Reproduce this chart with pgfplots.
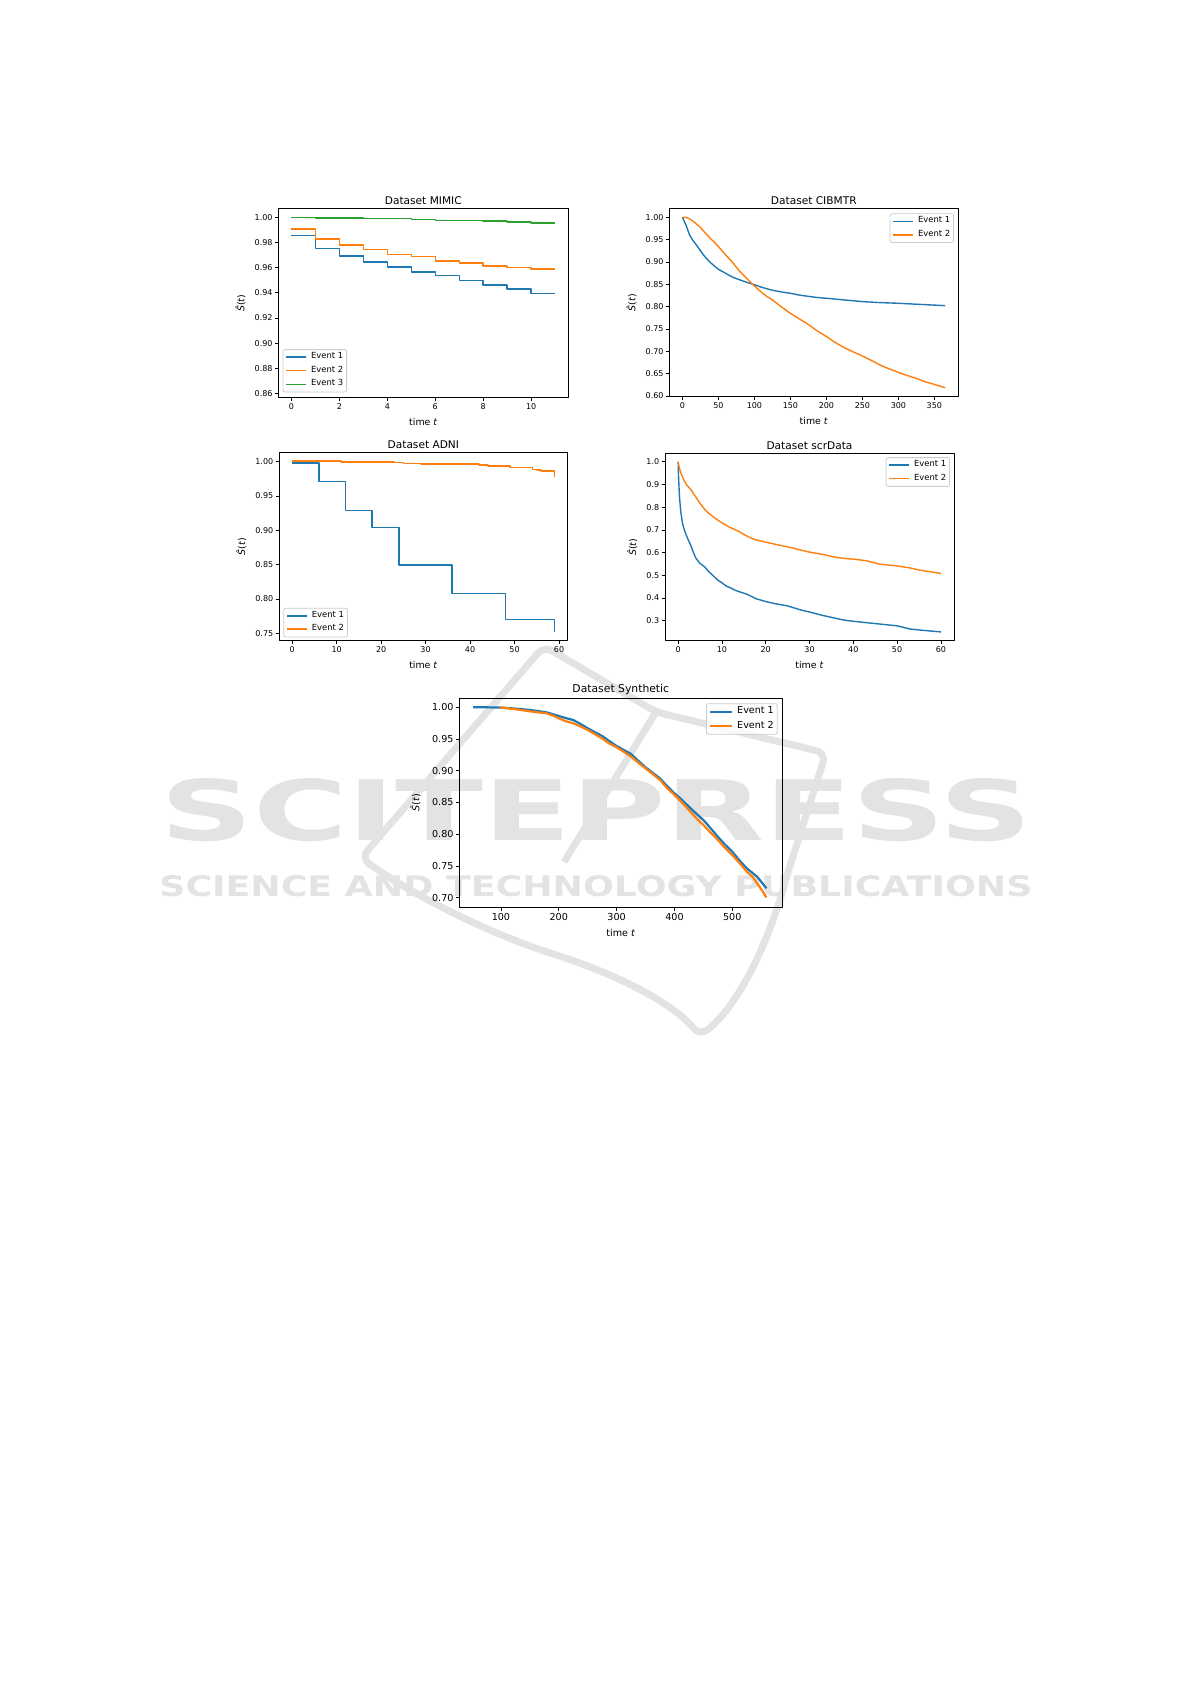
\documentclass[border=0pt]{standalone}
\usepackage{fontspec}
\setmainfont{DejaVu Sans}
\newfontfamily\wmfont{DejaVu Sans Bold}
\usepackage{graphicx}
\usepackage{pgfplots}
\pgfplotsset{compat=1.18}
\definecolor{c1}{HTML}{1F77B4}
\definecolor{c2}{HTML}{FF7F0E}
\definecolor{c3}{HTML}{2CA02C}
\definecolor{wm}{HTML}{E3E3E3}
\pgfplotsset{
  every axis title shift=0pt,
  mpl/.style={
    scale only axis, anchor=north west,
    axis line style={line width=0.45pt},
    tick align=outside, major tick length=1.7pt,
    every tick/.style={black, line width=0.35pt},
    xtick pos=bottom, ytick pos=left,
    /pgf/number format/assume math mode=true,
    ylabel={\textit{Ŝ}(\textit{t})}, xlabel={time \textit{t}},
    no markers, line join=round,
    legend cell align=left,
    legend style={draw=black!20, rounded corners=1pt, fill=white, fill opacity=0.8, text opacity=1,
      inner xsep=1.2pt, inner ysep=1pt, row sep=1.2pt, nodes={inner sep=0.5pt},
      /tikz/every odd column/.append style={column sep=1.6pt}},
    title style={inner sep=1.5pt},
    yticklabel style={inner sep=1pt},
    xticklabel style={inner sep=1pt},
  },
  small/.style={
    tick label style={font=\fontsize{4.0}{4.8}\selectfont},
    label style={font=\fontsize{4.7}{5.6}\selectfont},
    title style={font=\fontsize{5.3}{6}\selectfont},
    legend style={font=\fontsize{4.2}{5}\selectfont},
    legend image code/.code={\draw[##1] (0pt,0pt) -- (10pt,0pt);},
  },
}
\begin{document}
\begin{tikzpicture}
\path[use as bounding box, fill=white] (0pt,0pt) rectangle (595.5pt,-842pt);
% watermark
\draw[wm, line width=3.5pt, rounded corners=5pt] (272pt,-323pt) -- (180.5pt,-429pt) .. controls (210pt,-450pt) and (245pt,-466pt) .. (272pt,-475.5pt) .. controls (305pt,-486pt) and (335pt,-500pt) .. (350pt,-518pt) .. controls (372pt,-500pt) and (386pt,-465pt) .. (394pt,-436pt) -- (413pt,-376.5pt) -- (328pt,-356pt) -- cycle;
\draw[wm, line width=3.5pt] (328pt,-356pt) -- (282pt,-431pt);
\node[anchor=south west, inner sep=0pt, text=wm] at (80pt,-421pt) {\resizebox{436pt}{31pt}{\wmfont SCITEPRESS}};
\node[anchor=south west, inner sep=0pt, text=wm] at (79.5pt,-448.5pt) {\resizebox{436.5pt}{10.5pt}{\wmfont SCIENCE AND TECHNOLOGY PUBLICATIONS}};

% MIMIC
\begin{axis}[mpl, small, at={(139.15pt,-104.15pt)}, width=145pt, height=94.7pt,
  xmin=-0.55, xmax=11.55, ymin=0.8566, ymax=1.0072,
  xtick={0,2,4,6,8,10}, ytick={0.86,0.88,0.90,0.92,0.94,0.96,0.98,1.00},
  yticklabel style={/pgf/number format/.cd, fixed, fixed zerofill, precision=2},
  title={Dataset MIMIC},
  legend style={at={(0.015,0.028)}, anchor=south west}]
\addplot[const plot, c1, line width=0.75pt] coordinates {(0,0.9854)(1,0.9753)(2,0.9692)(3,0.9645)(4,0.9605)(5,0.9565)(6,0.9536)(7,0.9499)(8,0.9462)(9,0.9432)(10,0.9393)(11,0.9393)};
\addplot[const plot, c2, line width=0.75pt] coordinates {(0,0.9907)(1,0.9828)(2,0.9780)(3,0.9743)(4,0.9706)(5,0.9687)(6,0.9653)(7,0.9639)(8,0.9615)(9,0.9602)(10,0.9589)(11,0.9589)};
\addplot[const plot, c3, line width=0.75pt] coordinates {(0,1.0000)(1,0.9995)(3,0.9990)(5,0.9981)(6,0.9976)(8,0.9971)(9,0.9963)(10,0.9955)(11,0.9955)};
\legend{Event 1, Event 2, Event 3}
\end{axis}

% CIBMTR
\begin{axis}[mpl, small, at={(334.65pt,-104.15pt)}, width=144.5pt, height=94.2pt,
  xmin=-18.25, xmax=383.25, ymin=0.5985, ymax=1.020,
  xtick={0,50,100,150,200,250,300,350}, ytick={0.60,0.65,0.70,0.75,0.80,0.85,0.90,0.95,1.00},
  yticklabel style={/pgf/number format/.cd, fixed, fixed zerofill, precision=2},
  title={Dataset CIBMTR},
  legend style={at={(0.985,0.973)}, anchor=north east}]
\addplot[c1, line width=0.7pt] coordinates {(0,1.000)(5,0.982)(10,0.960)(15,0.947)(20,0.9366)(25,0.925)(30,0.914)(35,0.905)(40,0.897)(45,0.890)(50,0.8836)(55,0.879)(60,0.8746)(65,0.870)(70,0.8657)(80,0.8597)(90,0.854)(100,0.849)(110,0.8433)(125,0.8366)(137,0.833)(150,0.8299)(162,0.826)(175,0.823)(187,0.8205)(200,0.8187)(225,0.815)(250,0.8112)(275,0.809)(300,0.8075)(330,0.805)(365,0.8022)};
\addplot[c2, line width=0.7pt] coordinates {(0,1.000)(5,0.9995)(10,0.9963)(15,0.991)(20,0.9843)(25,0.977)(30,0.968)(35,0.959)(40,0.9507)(45,0.943)(50,0.9343)(55,0.925)(60,0.9157)(65,0.907)(70,0.8985)(75,0.888)(80,0.8784)(85,0.870)(90,0.862)(95,0.854)(100,0.8463)(105,0.839)(110,0.832)(117,0.823)(125,0.815)(137,0.800)(150,0.785)(162,0.773)(175,0.760)(187,0.746)(200,0.733)(212,0.720)(225,0.708)(237,0.699)(250,0.6896)(262,0.680)(275,0.669)(287,0.661)(300,0.653)(312,0.646)(325,0.6396)(337,0.632)(350,0.626)(358,0.622)(365,0.6186)};
\legend{Event 1, Event 2}
\end{axis}

% ADNI
\begin{axis}[mpl, small, at={(139.5pt,-226.15pt)}, width=144.35pt, height=94.2pt,
  xmin=-2.95, xmax=61.95, ymin=0.7393, ymax=1.0136,
  xtick={0,10,20,30,40,50,60}, ytick={0.75,0.80,0.85,0.90,0.95,1.00},
  yticklabel style={/pgf/number format/.cd, fixed, fixed zerofill, precision=2},
  title={Dataset ADNI},
  legend style={at={(0.015,0.018)}, anchor=south west}]
\addplot[const plot, c1, line width=0.8pt] coordinates {(0,0.9976)(6,0.9709)(12,0.9286)(18,0.9039)(24,0.8495)(36,0.8078)(48,0.7700)(59,0.7515)};
\addplot[const plot, c2, line width=0.8pt] coordinates {(0,1.0010)(11,0.9998)(23,0.9988)(25,0.9972)(29,0.9962)(42,0.9952)(44,0.9940)(49,0.9912)(54,0.9888)(55,0.9874)(56,0.9860)(59,0.9782)};
\legend{Event 1, Event 2}
\end{axis}

% scrData
\begin{axis}[mpl, small, at={(332.5pt,-226.65pt)}, width=144.5pt, height=93.7pt,
  xmin=-3, xmax=63, ymin=0.2114, ymax=1.0376,
  xtick={0,10,20,30,40,50,60}, ytick={0.3,0.4,0.5,0.6,0.7,0.8,0.9,1.0},
  yticklabel style={/pgf/number format/.cd, fixed, fixed zerofill, precision=1},
  title={Dataset scrData},
  legend style={at={(0.986,0.979)}, anchor=north east}]
\addplot[c1, line width=0.7pt] coordinates {(0,1.000)(0.1,0.93)(0.3,0.846)(0.6,0.78)(1,0.728)(1.5,0.695)(2,0.670)(2.5,0.648)(3,0.626)(3.5,0.600)(4,0.577)(5,0.552)(6,0.538)(7,0.516)(8,0.498)(9,0.479)(10,0.467)(11,0.452)(12,0.444)(13,0.434)(14,0.427)(15,0.421)(16,0.414)(17,0.404)(18,0.395)(19,0.390)(20,0.384)(22,0.375)(25,0.365)(28,0.347)(30,0.338)(33,0.323)(36,0.310)(38,0.302)(40,0.297)(45,0.287)(50,0.277)(53,0.263)(56,0.257)(60,0.250)};
\addplot[c2, line width=0.7pt] coordinates {(0,1.000)(0.3,0.971)(0.6,0.952)(1,0.934)(1.5,0.912)(2,0.897)(3,0.875)(4,0.846)(5,0.817)(6,0.792)(7,0.773)(8,0.758)(9,0.744)(10,0.731)(11,0.720)(12,0.709)(13,0.701)(14,0.692)(15,0.680)(16,0.670)(17,0.661)(18,0.655)(20,0.646)(23,0.633)(26,0.621)(28,0.611)(30,0.602)(33,0.592)(36,0.579)(38,0.574)(40,0.571)(43,0.564)(46,0.549)(50,0.541)(53,0.532)(55,0.523)(58,0.514)(60,0.508)};
\legend{Event 1, Event 2}
\end{axis}

% Synthetic
\begin{axis}[mpl, at={(229.65pt,-349.15pt)}, width=161.5pt, height=104.5pt,
  tick label style={font=\fontsize{4.8}{5.6}\selectfont},
  label style={font=\fontsize{4.8}{5.6}\selectfont},
  ylabel style={yshift=1.2pt},
  title style={font=\fontsize{5.4}{6.2}\selectfont},
  legend style={font=\fontsize{4.8}{5.6}\selectfont},
  legend image code/.code={\draw[#1] (0pt,0pt) -- (11pt,0pt);},
  xmin=28, xmax=586.5, ymin=0.6848, ymax=1.0142,
  xtick={100,200,300,400,500}, ytick={0.70,0.75,0.80,0.85,0.90,0.95,1.00},
  yticklabel style={/pgf/number format/.cd, fixed, fixed zerofill, precision=2},
  title={Dataset Synthetic},
  legend style={at={(0.9856,0.976)}, anchor=north east}]
\addplot[c1, line width=1.1pt] coordinates {(52,1.000)(75,1.000)(100,0.9995)(125,0.998)(150,0.9958)(165,0.994)(179,0.992)(190,0.989)(200,0.9863)(212,0.983)(225,0.980)(237,0.974)(250,0.967)(262,0.961)(275,0.9548)(287,0.947)(300,0.939)(312,0.933)(325,0.9264)(337,0.916)(350,0.9054)(362,0.897)(375,0.888)(387,0.876)(400,0.8645)(412,0.855)(425,0.8434)(437,0.833)(450,0.8224)(462,0.810)(475,0.796)(487,0.784)(500,0.7725)(512,0.759)(525,0.7462)(535,0.739)(543,0.733)(551,0.724)(559,0.7147)};
\addplot[c2, line width=1.1pt] coordinates {(98,1.000)(125,0.997)(150,0.9937)(165,0.992)(179,0.9905)(190,0.987)(200,0.9827)(212,0.978)(225,0.9748)(237,0.970)(250,0.9643)(262,0.958)(275,0.951)(287,0.943)(300,0.937)(312,0.930)(325,0.9222)(337,0.913)(350,0.9038)(362,0.895)(375,0.8855)(387,0.873)(400,0.8618)(412,0.851)(425,0.838)(437,0.826)(450,0.8145)(462,0.803)(475,0.791)(487,0.779)(500,0.7672)(513,0.754)(525,0.741)(535,0.733)(543,0.7226)(551,0.712)(559,0.7005)};
\legend{Event 1, Event 2}
\end{axis}
\end{tikzpicture}
\end{document}
